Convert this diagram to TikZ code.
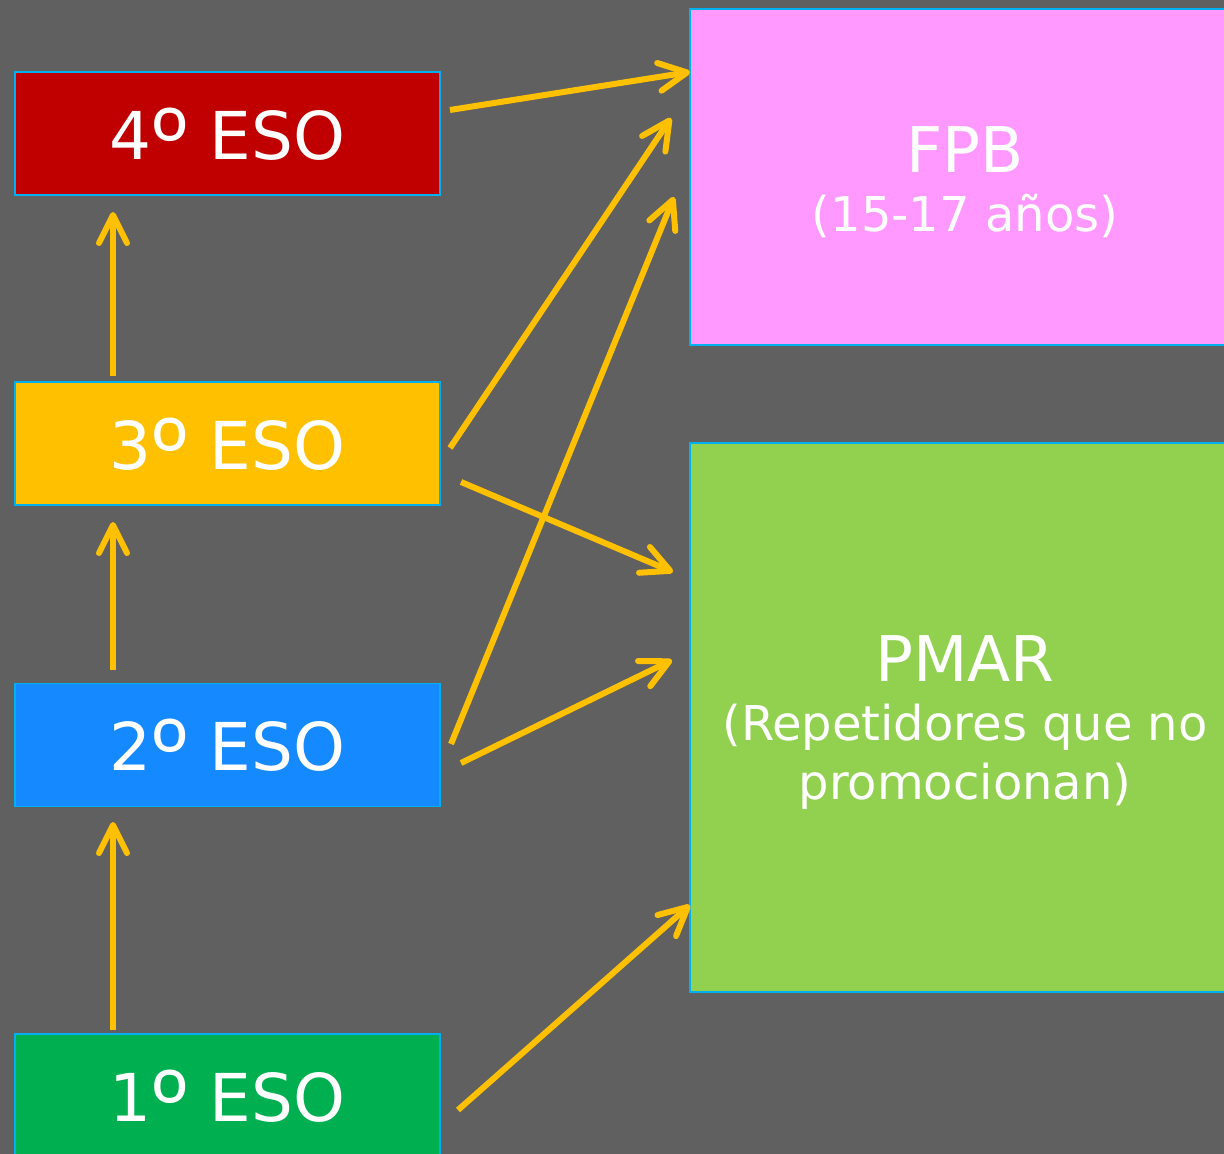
\documentclass[tikz,border=0pt]{standalone}
\usepackage{fontspec}
\setmainfont{DejaVu Sans}
\newfontfamily\ordfont[Scale=1.5]{Noto Sans}
\newcommand\ordmark{\raisebox{-0.31em}{\ordfont º}}
\usetikzlibrary{arrows.meta,positioning}
\definecolor{slate}{HTML}{606060}
\definecolor{edgeblue}{HTML}{00B0F0}
\definecolor{gold}{HTML}{FFC000}
\definecolor{darkred}{HTML}{C00000}
\definecolor{skyblue}{HTML}{1589FF}
\definecolor{leafgreen}{HTML}{00B050}
\definecolor{pink}{HTML}{FF99FF}
\definecolor{lime}{HTML}{92D050}

\begin{document}
\begin{tikzpicture}[x=0.5pt,y=-0.5pt,
            course/.style={draw=edgeblue, line width=0.75pt, minimum width=212.5pt, minimum height=61.5pt, inner sep=0pt, outer sep=0pt, text depth=0pt, font=\fontsize{33}{40}\selectfont},
            path/.style={draw=edgeblue, line width=0.75pt, minimum width=275pt, inner sep=0pt, outer sep=0pt},
            caption/.style={align=center, font=\fontsize{24}{29.5}\selectfont, yshift=-2.5pt},
            every node/.style={text=white},
            to/.style={-{Straight Barb[length=14pt,width=14pt,round]}, line width=3pt, draw=gold},
            node distance = 2cm
  ]

  \clip (0,0) rectangle (1224,1154);
  \fill[slate] (0,0) rectangle (1224,1154);

  % left column
  \node[course, fill=darkred] (eso4) at (227.5,133.5) {4\ordmark{} ESO};
  \node[course, fill=gold] (eso3) [below=93.5pt of eso4] {3\ordmark{} ESO};
  \node[course, fill=skyblue] (eso2) [below=89.25pt of eso3] {2\ordmark{} ESO};
  \node[course, fill=leafgreen] (eso1) [below=113.75pt of eso2] {1\ordmark{} ESO};

  % right column
  \node[path, fill=pink, minimum height=168pt, anchor=north west,
        label={[caption]center:{{\fontsize{31.5}{29.5}\selectfont FPB}\\(15-17 años)}}] (fpb) at (690,9) {};
  \node[path, fill=lime, minimum height=274.5pt,
        label={[caption]center:{{\fontsize{31.5}{29.5}\selectfont PMAR}\\(Repetidores que no\\promocionan)}}] (pmar) [below=49pt of fpb] {};

  \draw[to] ([shift={(-114.5,-4)}]eso1.north) -- ([shift={(-114.5,15.5)}]eso2.south);
  \draw[to] ([shift={(-114.5,-13.5)}]eso2.north) -- ([shift={(-114.5,17)}]eso3.south);
  \draw[to] ([shift={(-114.5,-6)}]eso3.north) -- ([shift={(-114.5,17)}]eso4.south);

  \draw[to] ([shift={(10,-23.5)}]eso4.east) -- ([shift={(0,-105)}]fpb.west);
  \draw[to] ([shift={(10,4.5)}]eso3.east) -- ([shift={(-19,-59)}]fpb.west);
  \draw[to] ([shift={(11,-1)}]eso2.east) -- ([shift={(-16,20)}]fpb.west);

  \draw[to] ([shift={(21,38.5)}]eso3.east) -- ([shift={(-17,-145.5)}]pmar.west);
  \draw[to] ([shift={(21,18)}]eso2.east) -- ([shift={(-18,-57.5)}]pmar.west);
  \draw[to] ([shift={(18,14.5)}]eso1.east) -- ([shift={(0,187.5)}]pmar.west);

\end{tikzpicture}
\end{document}
